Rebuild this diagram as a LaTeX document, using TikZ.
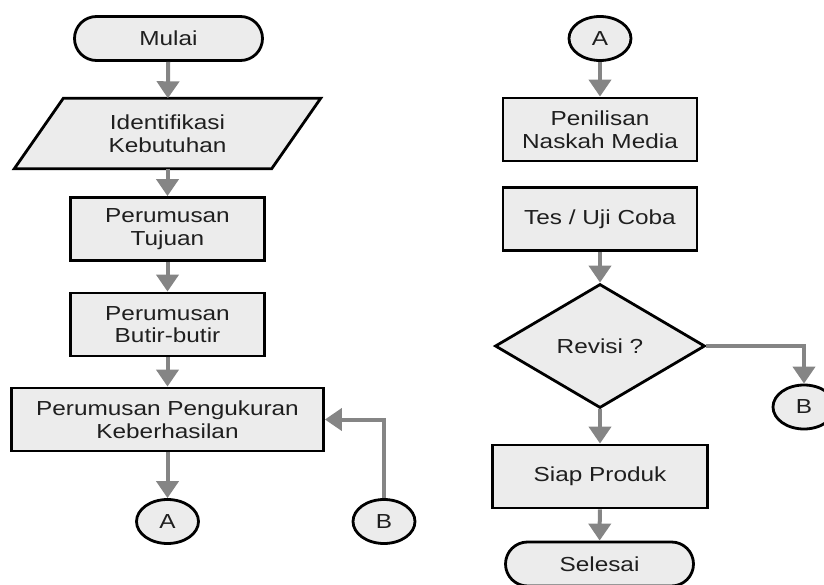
\documentclass[tikz,border=0pt]{standalone}
\usepackage{fontspec}
\setmainfont[FakeStretch=1.2]{Liberation Sans}
\usetikzlibrary{shapes.geometric,shapes.misc,arrows.meta,backgrounds}
\definecolor{boxfill}{HTML}{ECECEC}
\definecolor{flowgray}{HTML}{858585}
\begin{document}
\begin{tikzpicture}[x=1pt,y=-1pt,
	font=\fontsize{20.3}{22.5}\selectfont,
	base/.style={draw=black, line width=2.8pt, fill=boxfill, text=black!88, align=center, inner sep=0pt},
	terminal/.style={base, rounded rectangle, minimum width=188pt, minimum height=44pt},
	procbox/.style={base, rectangle, minimum width=194pt, minimum height=63pt},
	iobox/.style={text=black!88, align=center, inner sep=0pt, rectangle, minimum width=306pt, minimum height=70pt},
	decision/.style={base, diamond, minimum width=210pt, minimum height=124pt},
	connector/.style={base, ellipse, minimum width=62pt, minimum height=44pt},
	flow/.style={draw=flowgray, line width=4pt, -{Triangle[width=22pt,length=17pt]}}]
			\useasboundingbox (0,0) rectangle (824,585);
			% kolom kiri
			\node[terminal] (mulai) at (168.5,38.5) {Mulai};
			\node[iobox] (ident) at (167.5,133.5) {Identifikasi\\Kebutuhan};
			\begin{scope}[on background layer]
				\draw[draw=black, line width=2.8pt, fill=boxfill, line join=miter]
					([xshift=49pt]ident.north west) -- (ident.north east)
					-- ([xshift=-49pt]ident.south east) -- (ident.south west) -- cycle;
			\end{scope}
			\node[procbox] (tujuan) at (167.5,229) {Perumusan\\Tujuan};
			\node[procbox] (butir) at (167.5,324.5) {Perumusan\\Butir-butir};
			\node[procbox, minimum width=312pt] (ukur) at (167.5,419.5) {Perumusan Pengukuran\\Keberhasilan};
			\node[connector] (conA1) at (167.5,521.5) {A};
			\node[connector] (conB1) at (384,521.5) {B};
			% kolom kanan
			\node[connector] (conA2) at (600,38.5) {A};
			\node[procbox] (naskah) at (600,129.5) {Penilisan\\Naskah Media};
			\node[procbox] (tes) at (600,219) {Tes / Uji Coba};
			\node[decision] (revisi) at (600,346) {Revisi ?};
			\node[connector] (conB2) at (804,407) {B};
			\node[procbox, minimum width=215pt] (siap) at (600,476.5) {Siap Produk};
			\node[terminal] (selesai) at (599.5,564) {Selesai};
			% alur
			\draw[flow] (mulai) -- (ident);
			\draw[flow] (ident) -- (tujuan);
			\draw[flow] (tujuan) -- (butir);
			\draw[flow] (butir) -- (ukur);
			\draw[flow] (ukur) -- (conA1);
			\draw[flow] (conB1) |- (ukur);
			\draw[flow] (conA2) -- (naskah);
			\draw[flow] (tes) -- (revisi);
			\draw[flow] (revisi) -| (conB2);
			\draw[flow] (revisi) -- (siap);
			\draw[flow] (siap) -- (selesai);
		\end{tikzpicture}
\end{document}
